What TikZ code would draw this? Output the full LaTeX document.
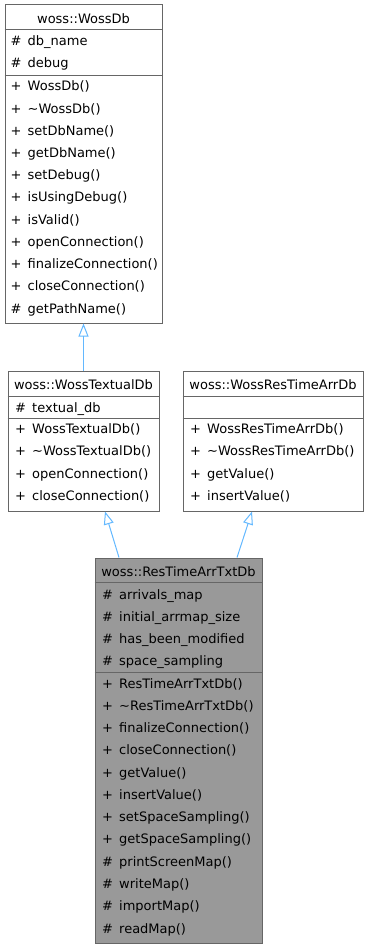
\documentclass[tikz,border=0pt]{standalone}
\usepackage{fontspec}
\setmainfont{DejaVu Sans}
\usetikzlibrary{arrows.meta}
\definecolor{edgec}{HTML}{666666}
\definecolor{fillc}{HTML}{999999}
\definecolor{inhc}{HTML}{63B8FF}
\newcommand{\msym}[1]{\makebox[17pt][l]{#1}}
\begin{document}
\begin{tikzpicture}[x=1pt,y=-1pt,
  cls/.style={draw=edgec, line width=1pt, fill=white, inner sep=0pt},
  sep/.style={draw=edgec, line width=1pt},
  row/.style={anchor=west, inner sep=0pt, text height=8pt, text depth=0pt, font=\fontsize{13}{15}\selectfont},
  ttl/.style={anchor=center, inner sep=0pt, text height=8pt, text depth=0pt, font=\fontsize{13}{15}\selectfont},
  inh/.style={draw=inhc, line width=1pt, -{Triangle[open, length=13pt, width=10pt]}}]
\useasboundingbox (0,0) rectangle (368,949);

% ---------- woss::WossDb ----------
\node[cls, minimum width=157pt, minimum height=318pt] (wossdb) at (83.5,164) {};
\draw[sep] ([yshift=-25pt]wossdb.north west) -- ([yshift=-25pt]wossdb.north east);
\draw[sep] ([yshift=-71pt]wossdb.north west) -- ([yshift=-71pt]wossdb.north east);
\node[ttl] (wt) at (83.5,19.5) {woss::WossDb};
\node[row] (wa1) at (10.5,42) {\msym{\#}db\_name};
\node[row] (wa2) at (10.5,64) {\msym{\#}debug};
\node[row] (wm1) at (10.5,87) {\msym{+}WossDb()};
\node[row] (wm2) at (10.5,109.2) {\msym{+}\textasciitilde WossDb()};
\node[row] (wm3) at (10.5,131.4) {\msym{+}setDbName()};
\node[row] (wm4) at (10.5,153.6) {\msym{+}getDbName()};
\node[row] (wm5) at (10.5,175.8) {\msym{+}setDebug()};
\node[row] (wm6) at (10.5,198) {\msym{+}isUsingDebug()};
\node[row] (wm7) at (10.5,220.2) {\msym{+}isValid()};
\node[row] (wm8) at (10.5,242.4) {\msym{+}openConnection()};
\node[row] (wm9) at (10.5,264.6) {\msym{+}finalizeConnection()};
\node[row] (wm10) at (10.5,286.8) {\msym{+}closeConnection()};
\node[row] (wm11) at (10.5,309) {\msym{\#}getPathName()};

% ---------- woss::WossTextualDb ----------
\node[cls, minimum width=151pt, minimum height=140pt] (textual) at (83.5,441) {};
\draw[sep] ([yshift=-26pt]textual.north west) -- ([yshift=-26pt]textual.north east);
\draw[sep] ([yshift=-48pt]textual.north west) -- ([yshift=-48pt]textual.north east);
\node[ttl] (tt) at (83.5,385) {woss::WossTextualDb};
\node[row] (ta1) at (15,408) {\msym{\#}textual\_db};
\node[row] (tm1) at (15,429.5) {\msym{+}WossTextualDb()};
\node[row] (tm2) at (15,451.9) {\msym{+}\textasciitilde WossTextualDb()};
\node[row] (tm3) at (15,474.3) {\msym{+}openConnection()};
\node[row] (tm4) at (15,496.7) {\msym{+}closeConnection()};

% ---------- woss::WossResTimeArrDb ----------
\node[cls, minimum width=180pt, minimum height=140pt] (resdb) at (273,441) {};
\draw[sep] ([yshift=-26pt]resdb.north west) -- ([yshift=-26pt]resdb.north east);
\draw[sep] ([yshift=-48pt]resdb.north west) -- ([yshift=-48pt]resdb.north east);
\node[ttl] (rt) at (273,385) {woss::WossResTimeArrDb};
\node[row] (rm1) at (190,429.5) {\msym{+}WossResTimeArrDb()};
\node[row] (rm2) at (190,451.9) {\msym{+}\textasciitilde WossResTimeArrDb()};
\node[row] (rm3) at (190,474.3) {\msym{+}getValue()};
\node[row] (rm4) at (190,496.7) {\msym{+}insertValue()};

% ---------- woss::ResTimeArrTxtDb ----------
\node[cls, fill=fillc, minimum width=167pt, minimum height=385pt] (restxt) at (178.5,750.5) {};
\draw[sep] ([yshift=-25pt]restxt.north west) -- ([yshift=-25pt]restxt.north east);
\draw[sep] ([yshift=-115pt]restxt.north west) -- ([yshift=-115pt]restxt.north east);
\node[ttl] (xt) at (178.5,572) {woss::ResTimeArrTxtDb};
\node[row] (xa1) at (102,595) {\msym{\#}arrivals\_map};
\node[row] (xa2) at (102,617) {\msym{\#}initial\_arrmap\_size};
\node[row] (xa3) at (102,639) {\msym{\#}has\_been\_modified};
\node[row] (xa4) at (102,661.3) {\msym{\#}space\_sampling};
\node[row] (xm1) at (102,684) {\msym{+}ResTimeArrTxtDb()};
\node[row] (xm2) at (102,706.3) {\msym{+}\textasciitilde ResTimeArrTxtDb()};
\node[row] (xm3) at (102,728.5) {\msym{+}finalizeConnection()};
\node[row] (xm4) at (102,750.8) {\msym{+}closeConnection()};
\node[row] (xm5) at (102,773.1) {\msym{+}getValue()};
\node[row] (xm6) at (102,795.4) {\msym{+}insertValue()};
\node[row] (xm7) at (102,817.6) {\msym{+}setSpaceSampling()};
\node[row] (xm8) at (102,839.9) {\msym{+}getSpaceSampling()};
\node[row] (xm9) at (102,862.2) {\msym{\#}printScreenMap()};
\node[row] (xm10) at (102,884.5) {\msym{\#}writeMap()};
\node[row] (xm11) at (102,906.7) {\msym{\#}importMap()};
\node[row] (xm12) at (102,929) {\msym{\#}readMap()};

% ---------- inheritance ----------
\draw[inh] (textual.north) -- (wossdb.south);
\draw[inh] ([xshift=-59.5pt]restxt.north) -- ([xshift=21.5pt]textual.south);
\draw[inh] ([xshift=58.5pt]restxt.north) -- ([xshift=-21pt]resdb.south);
\end{tikzpicture}
\end{document}
